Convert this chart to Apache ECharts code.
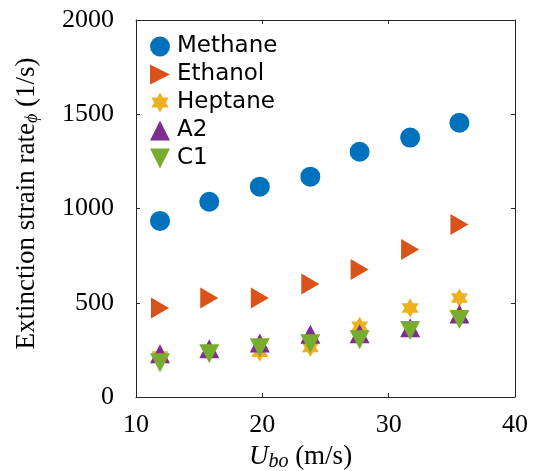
<!DOCTYPE html>
<html>
<head>
<meta charset="utf-8">
<script src="https://cdn.jsdelivr.net/npm/echarts@6/dist/echarts.min.js"></script>
<style>html,body{margin:0;padding:0;background:#fff;}#c{width:533px;height:471px;}</style>
</head>
<body>
<div id="c"></div>
<script>
var uBo = [11.9, 15.8, 19.8, 23.8, 27.7, 31.7, 35.6];
var methane = [934, 1036, 1116, 1169, 1301, 1376, 1455];
var ethanol = [472, 525, 525, 600, 676, 782, 915];
var heptane = [218, 245, 237, 262, 375, 472, 525];
var a2 = [230, 256, 286, 333, 335, 368, 440];
var c1 = [182, 230, 261, 283, 304, 353, 411];
var seriesNames = ['Methane', 'Ethanol', 'Heptane', 'A2', 'C1'];
var xTicks = [10, 20, 30, 40];
var yTicks = [0, 500, 1000, 1500, 2000];

function pts(v) { return uBo.map(function (x, i) { return [x, v[i]]; }); }
var hexPath = 'path://M0,-100L28.87,-50L86.6,-50L57.74,0L86.6,50L28.87,50L0,100L-28.87,50L-86.6,50L-57.74,0L-86.6,-50L-28.87,-50Z';
var triRight = 'path://M0,0L100,50L0,100Z';
var triUp = 'path://M50,0L100,100L0,100Z';
var triDown = 'path://M0,0L100,0L50,100Z';
var axisColor = '#262626';
var serif = '"Liberation Serif", "Times New Roman", serif';

var chart = echarts.init(document.getElementById('c'), null, {renderer: 'canvas'});
function xAx(pos, show) {
  return {
    type: 'value', position: pos, min: xTicks[0], max: xTicks[xTicks.length - 1], interval: 10,
    axisLine: {show: true, onZero: false, lineStyle: {color: axisColor, width: 1}},
    axisTick: {show: true, inside: true, length: 4, lineStyle: {color: axisColor}},
    axisLabel: {show: show, fontFamily: serif, fontSize: 26, color: '#000', margin: 15},
    splitLine: {show: false},
    name: show ? '{i|U}{s|bo} (m/s)' : '',
    nameLocation: 'middle', nameGap: 45,
    nameTextStyle: {fontFamily: serif, fontSize: 27, color: '#000', padding: [0, 50, 0, 0],
      rich: {i: {fontFamily: serif, fontStyle: 'italic', fontSize: 27, color: '#000'},
             s: {fontFamily: serif, fontStyle: 'italic', fontSize: 20, color: '#000', padding: [10, 0, 0, 0]}}}
  };
}
function yAx(pos, show) {
  return {
    type: 'value', position: pos, min: yTicks[0], max: yTicks[yTicks.length - 1], interval: 500,
    axisLine: {show: true, onZero: false, lineStyle: {color: axisColor, width: 1}},
    axisTick: {show: true, inside: true, length: 4, lineStyle: {color: axisColor}},
    axisLabel: {show: show, fontFamily: serif, fontSize: 26, color: '#000', margin: 22,
      formatter: function (v) { return String(v); }},
    splitLine: {show: false},
    name: show ? 'Extinction strain rate{s|ϕ} (1/s)' : '',
    nameLocation: 'middle', nameGap: 95, nameRotate: 90,
    nameTextStyle: {fontFamily: serif, fontSize: 27, color: '#000', padding: [0, 0, 0, 10],
      rich: {s: {fontFamily: serif, fontStyle: 'italic', fontSize: 18, color: '#000', padding: [10, 0, 0, 0]}}}
  };
}
var option = {
  backgroundColor: '#fff',
  animation: false,
  grid: {left: 136, right: 18, top: 20, bottom: 74, containLabel: false, outerBoundsMode: 'none'},
  xAxis: [xAx('bottom', true), xAx('top', false)],
  yAxis: [yAx('left', true), yAx('right', false)],
  legend: {
    left: 150, top: 35, orient: 'vertical', itemWidth: 20, itemHeight: 20, itemGap: 5, padding: 0,
    textStyle: {fontFamily: '"DejaVu Sans", sans-serif', fontSize: 23, color: '#000', padding: [0, 0, 0, 2]},
    data: seriesNames
  },
  series: [
    {name: seriesNames[0], type: 'scatter', data: pts(methane), symbol: 'circle', symbolSize: 20, itemStyle: {color: '#0072BD', opacity: 1}},
    {name: seriesNames[1], type: 'scatter', data: pts(ethanol), symbol: triRight, symbolSize: [18, 21], itemStyle: {color: '#D95319', opacity: 1}},
    {name: seriesNames[2], type: 'scatter', data: pts(heptane), symbol: hexPath, symbolSize: [17, 19], itemStyle: {color: '#EDB120', opacity: 1}},
    {name: seriesNames[3], type: 'scatter', data: pts(a2), symbol: triUp, symbolSize: [20, 19], itemStyle: {color: '#7E2F8E', opacity: 1}},
    {name: seriesNames[4], type: 'scatter', data: pts(c1), symbol: triDown, symbolSize: [20, 19], itemStyle: {color: '#77AC30', opacity: 1}}
  ]
};
chart.setOption(option);
</script>
</body>
</html>
